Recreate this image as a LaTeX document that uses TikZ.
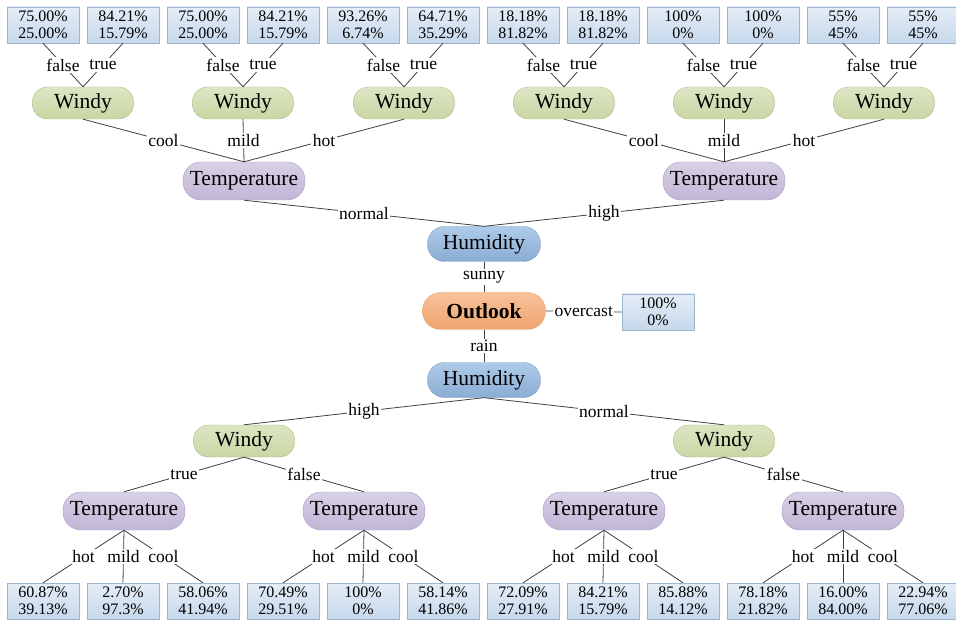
\documentclass[tikz,border=0pt]{standalone}
\usepackage{fontspec}
\setmainfont{Liberation Serif}
\usepackage{tikz}
\usetikzlibrary{positioning}
\usepackage{xcolor}

\definecolor{windytop}{HTML}{DDE6C3}
\definecolor{windybot}{HTML}{C9D6A4}
\definecolor{windyline}{HTML}{A9BA80}
\definecolor{temptop}{HTML}{D8D0E5}
\definecolor{tempbot}{HTML}{C2B6D6}
\definecolor{templine}{HTML}{A89BC1}
\definecolor{humtop}{HTML}{AECAE7}
\definecolor{humbot}{HTML}{8BADD5}
\definecolor{humline}{HTML}{7F9FC6}
\definecolor{outtop}{HTML}{F8C29A}
\definecolor{outbot}{HTML}{EFA56F}
\definecolor{outline}{HTML}{E2A878}
\definecolor{leaftop}{HTML}{E5EDF7}
\definecolor{leafbot}{HTML}{C6D8EC}
\definecolor{leafline}{HTML}{9DB5D1}
\definecolor{linegray}{HTML}{404040}

\begin{document}
\begin{tikzpicture}[
    x=1pt, y=-1pt,
    box/.style={draw, align=center, inner sep=3pt, font=\fontsize{21.5}{24}\selectfont},
    windy/.style={box, minimum width=101pt, minimum height=32pt, rounded corners=15pt, top color=windytop, bottom color=windybot, draw=windyline},
    temp/.style={box, minimum width=122pt, minimum height=38pt, rounded corners=18pt, top color=temptop, bottom color=tempbot, draw=templine},
    humid/.style={box, minimum width=113pt, minimum height=35pt, rounded corners=17pt, top color=humtop, bottom color=humbot, draw=humline},
    outlook/.style={box, minimum width=123pt, minimum height=37pt, rounded corners=18pt, top color=outtop, bottom color=outbot, draw=outline, font=\fontsize{21.5}{24}\selectfont\bfseries},
    leaf/.style={draw=leafline, top color=leaftop, bottom color=leafbot, minimum width=72pt, minimum height=36pt, inner sep=0pt, align=center, font=\fontsize{16}{17.5}\selectfont},
    note/.style={fill=white, inner sep=1.5pt, font=\fontsize{17.5}{19}\selectfont},
    link/.style={draw=linegray, line width=0.8pt}
  ]
  \useasboundingbox (0,0) rectangle (956,620);

  % Root and humidity nodes
  \node[outlook] (outlook) at (484,311) {Outlook};
  \node[leaf] (over) at (658,312) {100\%\\0\%};
  \node[humid] (hum_sunny) at (484,244) {Humidity};
  \node[humid] (hum_rain) at (484,380) {Humidity};

  % Upper half (sunny)
  \node[temp] (temp_n) at (244,181) {Temperature};
  \node[temp] (temp_h) at (724,181) {Temperature};
  \node[windy] (w_ncool) at (83,103) {Windy};
  \node[windy] (w_nmild) at (243,103) {Windy};
  \node[windy] (w_nhot) at (404,103) {Windy};
  \node[windy] (w_hcool) at (564,103) {Windy};
  \node[windy] (w_hmild) at (724,103) {Windy};
  \node[windy] (w_hhot) at (884,103) {Windy};

  % Upper leaves
  \node[leaf] (u1) at (43,25) {75.00\%\\25.00\%};
  \node[leaf] (u2) at (123,25) {84.21\%\\15.79\%};
  \node[leaf] (u3) at (203,25) {75.00\%\\25.00\%};
  \node[leaf] (u4) at (283,25) {84.21\%\\15.79\%};
  \node[leaf] (u5) at (363,25) {93.26\%\\6.74\%};
  \node[leaf] (u6) at (443,25) {64.71\%\\35.29\%};
  \node[leaf] (u7) at (523,25) {18.18\%\\81.82\%};
  \node[leaf] (u8) at (603,25) {18.18\%\\81.82\%};
  \node[leaf] (u9) at (683,25) {100\%\\0\%};
  \node[leaf] (u10) at (763,25) {100\%\\0\%};
  \node[leaf] (u11) at (843,25) {55\%\\45\%};
  \node[leaf] (u12) at (923,25) {55\%\\45\%};

  % Lower half (rain)
  \node[windy] (w_high) at (244,441) {Windy};
  \node[windy] (w_norm) at (724,441) {Windy};
  \node[temp] (t_ht) at (124,511) {Temperature};
  \node[temp] (t_hf) at (364,511) {Temperature};
  \node[temp] (t_nt) at (604,511) {Temperature};
  \node[temp] (t_nf) at (843,511) {Temperature};

  % Lower leaves
  \node[leaf] (d1) at (43,601) {60.87\%\\39.13\%};
  \node[leaf] (d2) at (123,601) {2.70\%\\97.3\%};
  \node[leaf] (d3) at (203,601) {58.06\%\\41.94\%};
  \node[leaf] (d4) at (283,601) {70.49\%\\29.51\%};
  \node[leaf] (d5) at (363,601) {100\%\\0\%};
  \node[leaf] (d6) at (443,601) {58.14\%\\41.86\%};
  \node[leaf] (d7) at (523,601) {72.09\%\\27.91\%};
  \node[leaf] (d8) at (603,601) {84.21\%\\15.79\%};
  \node[leaf] (d9) at (683,601) {85.88\%\\14.12\%};
  \node[leaf] (d10) at (763,601) {78.18\%\\21.82\%};
  \node[leaf] (d11) at (843,601) {16.00\%\\84.00\%};
  \node[leaf] (d12) at (923,601) {22.94\%\\77.06\%};

  % Connections around the root
  \draw[link] (outlook.north) -- node[note] {sunny} (hum_sunny.south);
  \draw[link] (outlook.south) -- node[note] {rain} (hum_rain.north);
  \draw[link] (outlook.east) -- node[note] {overcast} (over.west);

  % Connections, upper half
  \draw[link] (hum_sunny.north) -- node[note] {normal} (temp_n.south);
  \draw[link] (hum_sunny.north) -- node[note] {high} (temp_h.south);
  \draw[link] (temp_n.north) -- node[note] {cool} (w_ncool.south);
  \draw[link] (temp_n.north) -- node[note] {mild} (w_nmild.south);
  \draw[link] (temp_n.north) -- node[note] {hot} (w_nhot.south);
  \draw[link] (temp_h.north) -- node[note] {cool} (w_hcool.south);
  \draw[link] (temp_h.north) -- node[note] {mild} (w_hmild.south);
  \draw[link] (temp_h.north) -- node[note] {hot} (w_hhot.south);
  \draw[link] (w_ncool.north) -- node[note] {false} (u1.south);
  \draw[link] (w_ncool.north) -- node[note] {true} (u2.south);
  \draw[link] (w_nmild.north) -- node[note] {false} (u3.south);
  \draw[link] (w_nmild.north) -- node[note] {true} (u4.south);
  \draw[link] (w_nhot.north) -- node[note] {false} (u5.south);
  \draw[link] (w_nhot.north) -- node[note] {true} (u6.south);
  \draw[link] (w_hcool.north) -- node[note] {false} (u7.south);
  \draw[link] (w_hcool.north) -- node[note] {true} (u8.south);
  \draw[link] (w_hmild.north) -- node[note] {false} (u9.south);
  \draw[link] (w_hmild.north) -- node[note] {true} (u10.south);
  \draw[link] (w_hhot.north) -- node[note] {false} (u11.south);
  \draw[link] (w_hhot.north) -- node[note] {true} (u12.south);

  % Connections, lower half
  \draw[link] (hum_rain.south) -- node[note] {high} (w_high.north);
  \draw[link] (hum_rain.south) -- node[note] {normal} (w_norm.north);
  \draw[link] (w_high.south) -- node[note] {true} (t_ht.north);
  \draw[link] (w_high.south) -- node[note] {false} (t_hf.north);
  \draw[link] (w_norm.south) -- node[note] {true} (t_nt.north);
  \draw[link] (w_norm.south) -- node[note] {false} (t_nf.north);
  \draw[link] (t_ht.south) -- node[note] {hot} (d1.north);
  \draw[link] (t_ht.south) -- node[note] {mild} (d2.north);
  \draw[link] (t_ht.south) -- node[note] {cool} (d3.north);
  \draw[link] (t_hf.south) -- node[note] {hot} (d4.north);
  \draw[link] (t_hf.south) -- node[note] {mild} (d5.north);
  \draw[link] (t_hf.south) -- node[note] {cool} (d6.north);
  \draw[link] (t_nt.south) -- node[note] {hot} (d7.north);
  \draw[link] (t_nt.south) -- node[note] {mild} (d8.north);
  \draw[link] (t_nt.south) -- node[note] {cool} (d9.north);
  \draw[link] (t_nf.south) -- node[note] {hot} (d10.north);
  \draw[link] (t_nf.south) -- node[note] {mild} (d11.north);
  \draw[link] (t_nf.south) -- node[note] {cool} (d12.north);

\end{tikzpicture}
\end{document}
